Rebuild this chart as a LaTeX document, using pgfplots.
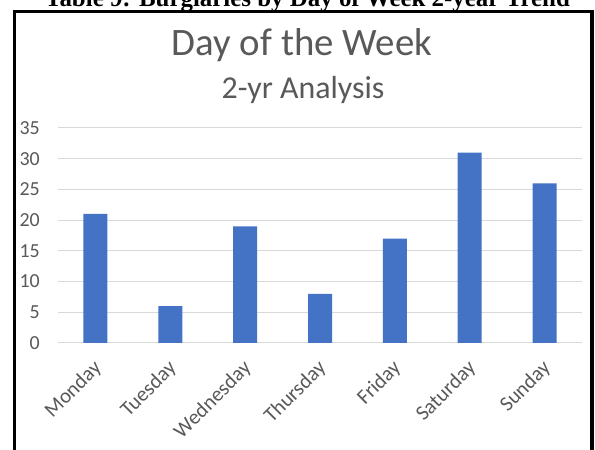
\documentclass[border=0pt]{standalone}
\usepackage{fontspec}
\setmainfont{Carlito}
\newfontfamily\capfont{Liberation Serif}
\usepackage{pgfplots}
\pgfplotsset{compat=1.18}
\definecolor{barblue}{HTML}{4472C4}
\definecolor{txtgray}{HTML}{595959}
\definecolor{gridgray}{HTML}{D9D9D9}
\begin{document}
\begin{tikzpicture}[x=1bp,y=1bp]
\fill[white] (0,0) rectangle (595,450);
\node[anchor=base, font=\capfont\bfseries\fontsize{25}{30}\selectfont, inner sep=0pt] at (307.5,443.5) {Table 9: Burglaries by Day of Week 2-year Trend};
\draw[line width=3.2bp] (14.3,-20) -- (14.3,438.7) -- (592,438.7) -- (592,-20);
\node[anchor=base, font=\fontsize{39}{45}\selectfont, text=txtgray, inner sep=0pt] at (302,394) {Day of the Week};
\node[anchor=base, font=\fontsize{32}{37}\selectfont, text=txtgray, inner sep=0pt] at (303,351) {2-yr Analysis};
\begin{axis}[
  at={(58bp,107bp)}, anchor=south west,
  scale only axis, width=524bp, height=215bp,
  xmin=-0.5, xmax=6.5, ymin=0, ymax=35,
  ytick={0,5,...,35},
  xtick=data,
  xticklabels={Monday,Tuesday,Wednesday,Thursday,Friday,Saturday,Sunday},
  ymajorgrids, grid style={gridgray, line width=1bp},
  axis x line*=bottom, axis y line*=left,
  y axis line style={draw=none},
  x axis line style={gridgray, line width=1bp, -},
  major tick length=0pt,
  tick label style={font=\fontsize{20}{24}\selectfont, text=txtgray},
  /pgf/number format/assume math mode=true,
  yticklabel style={anchor=east, inner sep=0pt, xshift=-18bp},
  xticklabel style={font=\fontsize{21}{25}\selectfont, xshift=3bp, yshift=-22bp, rotate=45, anchor=east, inner sep=0pt},
  ybar, bar width=24bp,
  clip=false,
]
\addplot[fill=barblue, draw=none] coordinates {(0,21) (1,6) (2,19) (3,8) (4,17) (5,31) (6,26)};
\end{axis}
\pgfresetboundingbox
\path[use as bounding box] (0,0) rectangle (595,450);
\end{tikzpicture}
\end{document}
